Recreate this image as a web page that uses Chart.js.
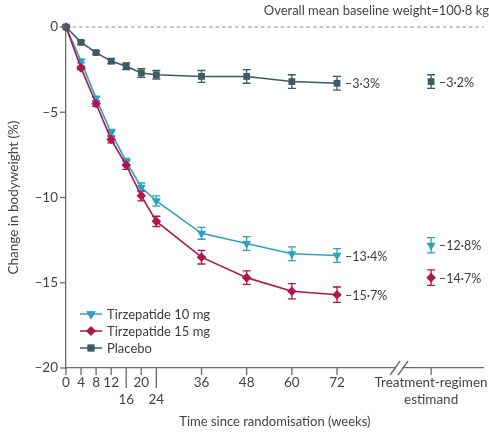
<!DOCTYPE html>
<html>
<head>
<meta charset="utf-8">
<script src="https://cdn.jsdelivr.net/npm/chart.js@4.4.1/dist/chart.umd.min.js"></script>
<style>
  html, body { margin: 0; padding: 0; background: #fff; }
  #wrap { width: 489px; height: 432px; position: relative; }
</style>
</head>
<body>
<div id="wrap"><canvas id="chart" width="489" height="432"></canvas></div>
<script>
// weeks since randomisation
const weeks = [0, 4, 8, 12, 16, 20, 24, 36, 48, 60, 72];
const tirz10 = [0, -2.0, -4.2, -6.2, -7.9, -9.4, -10.2, -12.1, -12.7, -13.3, -13.4];
const tirz15 = [0, -2.4, -4.5, -6.6, -8.1, -9.9, -11.4, -13.5, -14.7, -15.5, -15.7];
const placebo = [0, -0.9, -1.5, -2.0, -2.3, -2.7, -2.8, -2.9, -2.9, -3.2, -3.3];
const tirz10Err = [0, 0.1, 0.15, 0.2, 0.2, 0.25, 0.3, 0.35, 0.4, 0.4, 0.4];
const tirz15Err = [0, 0.1, 0.15, 0.2, 0.25, 0.3, 0.3, 0.4, 0.4, 0.45, 0.45];
const placeboErr = [0, 0.1, 0.1, 0.15, 0.2, 0.25, 0.25, 0.35, 0.4, 0.4, 0.4];

// treatment-regimen estimand (10 mg, 15 mg, placebo)
const estimandValues = [-12.8, -14.7, -3.2];
const estimandErr = [0.45, 0.45, 0.4];
const estimandWeek = 97;
const breakWeek = 88.5;

const seriesNames = ["Tirzepatide 10 mg", "Tirzepatide 15 mg", "Placebo"];
const xTicks = [0, 4, 8, 12, 16, 20, 24, 36, 48, 60, 72];
const lowTicks = [16, 24];
const yTicks = [0, -5, -10, -15, -20];

const colors = ["#2aa3c1", "#b0164c", "#3e5a63"];
const styles = [
  { pointStyle: "triangle", rotation: 180, radius: 5.2 },
  { pointStyle: "rectRot", rotation: 0, radius: 4.8 },
  { pointStyle: "rect", rotation: 0, radius: 4.8 }
];
const FONT = "Lato, 'DejaVu Sans', sans-serif";
const fmt = v => (v < 0 ? "\u2013" : "") + Math.abs(v).toFixed(1).replace(".", "\u00b7") + "%";

const lines = [tirz10, tirz15, placebo];
const errs = [tirz10Err, tirz15Err, placeboErr];

const datasets = [];
lines.forEach((vals, s) => {
  datasets.push({
    label: seriesNames[s],
    data: weeks.map((w, i) => ({ x: w, y: vals[i] })),
    errors: errs[s],
    borderColor: colors[s],
    backgroundColor: colors[s],
    borderWidth: 1.6,
    pointStyle: styles[s].pointStyle,
    rotation: styles[s].rotation,
    pointRadius: styles[s].radius,
    pointBorderWidth: 0,
    clip: false,
    order: 3 - s
  });
});
lines.forEach((vals, s) => {
  datasets.push({
    label: seriesNames[s] + " estimand",
    data: [{ x: estimandWeek, y: estimandValues[s] }],
    errors: [estimandErr[s]],
    showLine: false,
    borderColor: colors[s],
    backgroundColor: colors[s],
    pointStyle: styles[s].pointStyle,
    rotation: styles[s].rotation,
    pointRadius: styles[s].radius,
    pointBorderWidth: 0,
    clip: false
  });
});

/* ================= DECORATIONS ================= */
const extras = {
  id: "extras",
  beforeDatasetsDraw(chart) {
    const { ctx, chartArea, scales: { x, y } } = chart;
    ctx.save();
    // dotted baseline at 0
    ctx.strokeStyle = "#8a8a8a";
    ctx.lineWidth = 1.2;
    ctx.setLineDash([3.5, 3]);
    ctx.beginPath();
    ctx.moveTo(chartArea.left, y.getPixelForValue(0));
    ctx.lineTo(chartArea.right, y.getPixelForValue(0));
    ctx.stroke();
    ctx.setLineDash([]);

    // error bars
    chart.data.datasets.forEach(ds => {
      ds.errors.forEach((e, i) => {
        if (!e) return;
        const p = ds.data[i];
        const px = x.getPixelForValue(p.x);
        const top = y.getPixelForValue(p.y + e);
        const bot = y.getPixelForValue(p.y - e);
        ctx.strokeStyle = ds.borderColor;
        ctx.lineWidth = 1.3;
        ctx.beginPath();
        ctx.moveTo(px, top); ctx.lineTo(px, bot);
        ctx.moveTo(px - 4, top); ctx.lineTo(px + 4, top);
        ctx.moveTo(px - 4, bot); ctx.lineTo(px + 4, bot);
        ctx.stroke();
      });
    });
    ctx.restore();
  },
  afterDraw(chart) {
    const { ctx, chartArea, scales: { x, y } } = chart;
    ctx.save();
    const axisColor = "#6a6a6a";
    ctx.strokeStyle = axisColor;
    ctx.lineWidth = 1.3;
    // y tick marks
    yTicks.forEach(v => {
      const py = y.getPixelForValue(v);
      ctx.beginPath();
      ctx.moveTo(chartArea.left - 6, py);
      ctx.lineTo(chartArea.left, py);
      ctx.stroke();
    });
    // x tick marks (16 and 24 longer)
    xTicks.concat([estimandWeek]).forEach(v => {
      const px = x.getPixelForValue(v);
      const len = lowTicks.includes(v) ? 20 : 7;
      ctx.beginPath();
      ctx.moveTo(px, chartArea.bottom);
      ctx.lineTo(px, chartArea.bottom + len);
      ctx.stroke();
    });
    // axis break
    const bx = x.getPixelForValue(breakWeek);
    const by = chartArea.bottom;
    ctx.fillStyle = "#fff";
    ctx.fillRect(bx - 3, by - 2, 6, 4);
    ctx.beginPath();
    ctx.moveTo(bx - 9, by + 7); ctx.lineTo(bx + 1, by - 7);
    ctx.moveTo(bx - 1, by + 7); ctx.lineTo(bx + 9, by - 7);
    ctx.stroke();

    // end value labels
    ctx.font = "12.5px " + FONT;
    ctx.fillStyle = "#3c3c3c";
    ctx.textAlign = "left";
    ctx.textBaseline = "middle";
    chart.data.datasets.forEach(ds => {
      const p = ds.data[ds.data.length - 1];
      ctx.fillText(fmt(p.y), x.getPixelForValue(p.x) + 8, y.getPixelForValue(p.y) + 1);
    });

    // title
    ctx.font = "13px " + FONT;
    ctx.fillStyle = "#444";
    ctx.textAlign = "right";
    ctx.fillText("Overall mean baseline weight=100\u00b78 kg", 489, 11);

    // legend
    ctx.font = "13px " + FONT;
    ctx.textAlign = "left";
    seriesNames.forEach((name, s) => {
      const ly = 314 + s * 17;
      ctx.strokeStyle = colors[s];
      ctx.lineWidth = 1.5;
      ctx.beginPath();
      ctx.moveTo(80, ly); ctx.lineTo(102, ly);
      ctx.stroke();
      Chart.helpers.drawPoint(ctx, {
        pointStyle: styles[s].pointStyle,
        rotation: styles[s].rotation,
        radius: styles[s].radius,
        borderWidth: 0
      }, 91, ly);
      ctx.fillStyle = colors[s];
      ctx.fill();
      ctx.fillStyle = "#3c3c3c";
      ctx.fillText(name, 107, ly + 1);
    });
    ctx.restore();
  }
};

new Chart(document.getElementById("chart"), {
  type: "line",
  data: { datasets },
  plugins: [extras],
  options: {
    responsive: false,
    animation: false,
    layout: { padding: { top: 27, left: 0, right: 0, bottom: 0 } },
    plugins: { legend: { display: false }, tooltip: { enabled: false } },
    scales: {
      x: {
        type: "linear",
        min: 0,
        max: 111,
        grid: { display: false, drawTicks: false },
        border: { display: true, color: "#6a6a6a", width: 1.3 },
        afterBuildTicks: scale => {
          scale.ticks = xTicks.concat([estimandWeek]).map(v => ({ value: v }));
        },
        afterFit: scale => {
          scale.height = 64;
          scale.paddingLeft = 0;
          scale.paddingRight = 0;
        },
        ticks: {
          autoSkip: false,
          maxRotation: 0,
          padding: 7,
          color: "#444",
          font: { family: FONT, size: 13.5 },
          callback: v => {
            if (v === estimandWeek) return ["Treatment-regimen", "estimand"];
            if (lowTicks.includes(v)) return ["", String(v)];
            return String(v);
          }
        },
        title: {
          display: true,
          text: "Time since randomisation (weeks)",
          color: "#444",
          font: { family: FONT, size: 13 },
          padding: { top: 0, bottom: 2 }
        }
      },
      y: {
        min: -20,
        max: 0,
        grid: { display: false, drawTicks: false },
        border: { display: true, color: "#6a6a6a", width: 1.3 },
        afterBuildTicks: scale => {
          scale.ticks = yTicks.map(v => ({ value: v }));
        },
        afterFit: scale => {
          scale.width = 66;
          scale.paddingTop = 0;
          scale.paddingBottom = 0;
        },
        ticks: {
          padding: 8,
          color: "#444",
          font: { family: FONT, size: 13.5 },
          callback: v => (v === 0 ? "0" : "\u2013" + Math.abs(v))
        },
        title: {
          display: true,
          text: "Change in bodyweight (%)",
          color: "#444",
          font: { family: FONT, size: 13.5 },
          padding: { top: 6, bottom: 0 }
        }
      }
    }
  }
});
</script>
</body>
</html>
